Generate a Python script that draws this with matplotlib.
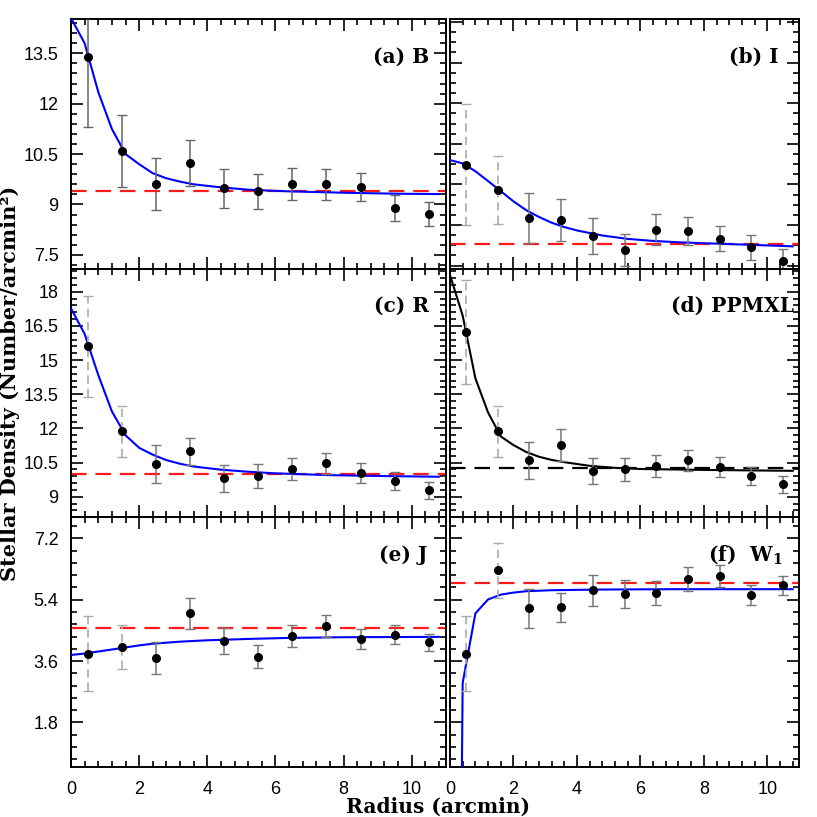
import numpy as np
import matplotlib
matplotlib.use("Agg")
import matplotlib.pyplot as plt
from matplotlib.ticker import MultipleLocator, FuncFormatter

plt.rcParams['font.family'] = ['Liberation Sans', 'DejaVu Sans']
plt.rcParams['mathtext.fontset'] = 'dejavuserif'

# radial bins (arcmin)
radius = [0.5, 1.5, 2.5, 3.5, 4.5, 5.5, 6.5, 7.5, 8.5, 9.5, 10.5]

# (a) B
dens_B = [13.38, 10.60, 9.61, 10.24, 9.48, 9.40, 9.60, 9.60, 9.51, 8.90, 8.72]
err_B = [2.07, 1.07, 0.78, 0.68, 0.57, 0.52, 0.48, 0.46, 0.42, 0.38, 0.36]
bg_B = 9.41
fit_r_B = [0.0, 0.4, 0.8, 1.2, 1.6, 2.0, 2.4, 2.8, 3.2, 3.6, 4.4, 5.2, 6.4, 8.0, 9.6, 10.8]
fit_B = [14.55, 13.8, 12.35, 11.25, 10.5, 10.2, 9.93, 9.78, 9.68, 9.60, 9.51, 9.44, 9.39, 9.35, 9.32, 9.31]

# (b) I
dens_I = [10.18, 9.44, 8.60, 8.55, 8.07, 7.66, 8.26, 8.22, 8.00, 7.74, 7.34]
err_I = [1.79, 1.00, 0.74, 0.61, 0.53, 0.48, 0.46, 0.42, 0.38, 0.36, 0.34]
bg_I = 7.84
fit_r_I = [0.0, 0.4, 0.8, 1.2, 1.6, 2.0, 2.4, 2.8, 3.2, 3.6, 4.0, 4.8, 5.6, 6.4, 7.2, 8.4, 9.6, 10.8]
fit_I = [10.32, 10.22, 9.99, 9.70, 9.40, 9.10, 8.84, 8.64, 8.47, 8.34, 8.24, 8.09, 7.99, 7.93, 7.89, 7.85, 7.81, 7.77]

# (c) R
dens_R = [15.60, 11.87, 10.44, 10.99, 9.81, 9.91, 10.22, 10.47, 10.03, 9.70, 9.29]
err_R = [2.23, 1.12, 0.83, 0.60, 0.58, 0.53, 0.49, 0.46, 0.44, 0.41, 0.38]
bg_R = 9.98
fit_r_R = [0.0, 0.4, 0.8, 1.2, 1.6, 2.0, 2.4, 2.8, 3.2, 3.6, 4.4, 5.2, 6.0, 7.6, 9.2, 10.8]
fit_R = [17.27, 16.15, 14.35, 12.75, 11.7, 11.15, 10.85, 10.61, 10.45, 10.33, 10.19, 10.10, 10.03, 9.95, 9.91, 9.88]

# (d) PPMXL
dens_P = [16.24, 11.87, 10.61, 11.27, 10.13, 10.20, 10.36, 10.60, 10.30, 9.91, 9.54]
err_P = [2.28, 1.11, 0.81, 0.72, 0.58, 0.52, 0.49, 0.47, 0.43, 0.40, 0.38]
bg_P = 10.25
fit_r_P = [0.0, 0.4, 0.8, 1.2, 1.6, 2.0, 2.4, 2.8, 3.2, 3.6, 4.4, 5.2, 6.0, 8.0, 10.8]
fit_P = [18.73, 16.95, 14.2, 12.7, 11.65, 11.27, 10.97, 10.76, 10.62, 10.52, 10.36, 10.27, 10.22, 10.18, 10.14]

# (e) J
dens_J = [3.81, 4.02, 3.69, 5.00, 4.19, 3.73, 4.33, 4.63, 4.24, 4.37, 4.15]
err_J = [1.10, 0.65, 0.48, 0.46, 0.38, 0.33, 0.32, 0.31, 0.29, 0.28, 0.25]
bg_J = 4.56
fit_r_J = [0.0, 0.4, 0.8, 1.2, 1.6, 2.0, 2.4, 3.2, 4.0, 5.2, 6.4, 8.0, 10.8]
fit_J = [3.78, 3.82, 3.88, 3.94, 4.00, 4.06, 4.11, 4.17, 4.21, 4.25, 4.28, 4.30, 4.31]

# (f) W1
dens_W = [3.81, 6.26, 5.15, 5.18, 5.68, 5.56, 5.60, 6.01, 6.10, 5.53, 5.82]
err_W = [1.10, 0.82, 0.57, 0.42, 0.45, 0.41, 0.36, 0.34, 0.33, 0.29, 0.29]
bg_W = 5.90
fit_r_W = [0.36, 0.4, 0.8, 1.2, 1.6, 2.0, 2.4, 3.2, 4.8, 7.0, 10.8]
fit_W = [-1.0, 2.96, 5.0, 5.41, 5.55, 5.61, 5.65, 5.68, 5.70, 5.71, 5.71]

labels = ['(a) B', '(b) I', '(c) R', '(d) PPMXL', '(e) J', r'(f)  W$_\mathbf{1}$']

panels = [
    (dens_B, err_B, bg_B, fit_r_B, fit_B),
    (dens_I, err_I, bg_I, fit_r_I, fit_I),
    (dens_R, err_R, bg_R, fit_r_R, fit_R),
    (dens_P, err_P, bg_P, fit_r_P, fit_P),
    (dens_J, err_J, bg_J, fit_r_J, fit_J),
    (dens_W, err_W, bg_W, fit_r_W, fit_W),
]

# layout / axis settings per panel
W = 817.0
col_x = [(71, 374.7), (450, 349)]
row_y = [(548, 250), (299.7, 248.3), (50.3, 249.4)]
ylims = [(7.08, 14.52), (7.10, 14.49), (8.10, 19.0), (8.10, 19.0), (0.50, 7.82), (0.50, 7.82)]
ymajor = [1.5, 1.2, 1.5, 1.5, 1.8, 1.8]
yminor = [0.3, 0.3, 0.3, 0.3, 0.36, 0.36]
fit_col = ['blue', 'blue', 'blue', 'black', 'blue', 'blue']
bg_col = ['#ff1a1a', '#ff1a1a', '#ff1a1a', 'black', '#ff1a1a', '#ff1a1a']
n_dashed = [0, 2, 2, 2, 2, 2]
label_x = [0.955, 0.94, 0.955, 0.985, 0.95, 0.955]

fig = plt.figure(figsize=(8.17, 8.17), dpi=100)

serif = dict(family='DejaVu Serif', weight='bold')

for i, (dens, err, bg, fr, fv) in enumerate(panels):
    row, col = divmod(i, 2)
    x0, w = col_x[col]
    y0, h = row_y[row]
    ax = fig.add_axes([x0 / W, y0 / W, w / W, h / W])

    ax.plot([0, 11], [bg, bg], color=bg_col[i], lw=1.6, dashes=(7, 4), zorder=2)
    ax.plot(fr, fv, color=fit_col[i], lw=1.5, zorder=3)

    nd = n_dashed[i]
    if nd:
        eb = ax.errorbar(radius[:nd], dens[:nd], yerr=err[:nd], fmt='none',
                         ecolor='#aaaaaa', elinewidth=1.2, capsize=3.5, capthick=1, zorder=4)
        eb[2][0].set_linestyle((0, (5, 3)))
    eb = ax.errorbar(radius[nd:], dens[nd:], yerr=err[nd:], fmt='none',
                     ecolor='#666666' if i == 0 else '#777777', elinewidth=1.1,
                     capsize=3.5, capthick=1, zorder=4)
    ax.plot(radius, dens, 'o', color='black', ms=5.5, zorder=5)

    ax.set_xlim(0, 11)
    ax.set_ylim(*ylims[i])
    ax.xaxis.set_major_locator(MultipleLocator(2))
    ax.xaxis.set_minor_locator(MultipleLocator(0.4))
    ax.yaxis.set_major_locator(MultipleLocator(ymajor[i]))
    ax.yaxis.set_minor_locator(MultipleLocator(yminor[i]))
    ax.yaxis.set_major_formatter(FuncFormatter(lambda v, p: f'{v:g}'))
    ax.tick_params(which='both', direction='in', top=True, right=True,
                   labelsize=13, width=1.2)
    ax.tick_params(which='major', length=8.5)
    ax.tick_params(which='minor', length=4)
    ax.tick_params(axis='x', pad=10)
    ax.tick_params(axis='y', pad=9)
    ax.tick_params(labelleft=(col == 0), labelbottom=(row == 2))
    for s in ax.spines.values():
        s.set_linewidth(1.4)

    ax.text(label_x[i], 0.85, labels[i], transform=ax.transAxes, ha='right',
            va='center', fontsize=14.5, **serif)

fig.text(0.012, 0.531, 'Stellar Density (Number/arcmin²)', rotation=90,
         ha='center', va='center', fontsize=15, **serif)
fig.text(0.536, 0.012, 'Radius (arcmin)', ha='center', va='center',
         fontsize=14.5, **serif)

fig.savefig('out.png', dpi=100)
